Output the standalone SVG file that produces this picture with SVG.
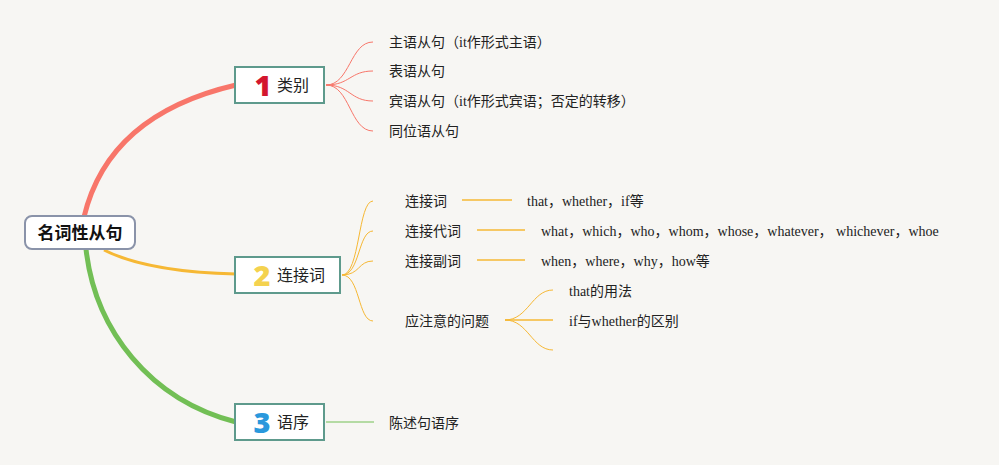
<svg xmlns="http://www.w3.org/2000/svg" width="999" height="465" viewBox="0 0 999 465">
<style>
.bg{fill:#f7f6f3}
.main{fill:#fff;stroke:#5e9a8c;stroke-width:2}
.root{fill:#fff;stroke:#8a93a9;stroke-width:2}
.t{font-family:"Noto Sans CJK SC","Noto Sans",sans-serif;font-size:14px;fill:#222}
.e{font-family:"Liberation Serif","Noto Sans CJK SC",serif;font-size:14px;fill:#222}
.m{font-family:"Noto Sans CJK SC",sans-serif;font-size:16px;fill:#222}
.n{font-family:"Open Sans","Noto Sans",sans-serif;font-weight:800;font-size:29px}
.r{fill:none;stroke:#f8766a}
.y{fill:none;stroke:#f6b834}
.g{fill:none;stroke:#72bf55}
</style>
<rect class="bg" width="999" height="465"/>
<g id="connectors">
<path class="r" stroke-width="5" d="M84 217 C100 150,150 105,236 85"/>
<path class="y" stroke-width="3" d="M104 250 C140 268,190 273,236 274"/>
<path class="g" stroke-width="5" d="M86 249 C95 330,150 400,236 422"/>
<g class="r" stroke-width="1">
<path d="M326 85 C350 85,350 42,373 42"/>
<path d="M326 85 C350 85,350 71,373 71"/>
<path d="M326 85 C350 85,350 101,373 101"/>
<path d="M326 85 C350 85,350 131,373 131"/>
</g>
<g class="y" stroke-width="1">
<path d="M342 275 C360 275,358 201,373 201"/>
<path d="M342 275 C360 275,358 231,373 231"/>
<path d="M342 275 C360 275,358 261,373 261"/>
<path d="M342 275 C360 275,358 321,373 321"/>
<path stroke-width="1.5" d="M462 200 H512"/>
<path stroke-width="1.5" d="M477 230 H525"/>
<path stroke-width="1.5" d="M477 260 H525"/>
<path stroke-width="1.5" d="M505 320 H553"/>
<path d="M505 320 C528 320,532 290,553 290"/>
<path d="M505 320 C528 320,532 350,553 350"/>
</g>
<path class="g" stroke-width="1" d="M326 422 H374"/>
</g>
<g id="root">
<rect class="root" x="25" y="216" width="110" height="33" rx="7"/>
<text x="80" y="239" text-anchor="middle" font-family="Noto Sans CJK SC,sans-serif" font-weight="bold" font-size="17" fill="#111">名词性从句</text>
</g>
<g id="n1">
<rect class="main" x="235" y="67" width="89" height="36"/>
<text class="n" x="263" y="96" fill="#d3162e" text-anchor="middle">1</text>
<text class="m" x="277" y="91">类别</text>
</g>
<g id="n2">
<rect class="main" x="235" y="257" width="105" height="36"/>
<text class="n" x="262" y="286" fill="#f4d24f" text-anchor="middle">2</text>
<text class="m" x="277" y="281">连接词</text>
</g>
<g id="n3">
<rect class="main" x="235" y="404" width="89" height="36"/>
<text class="n" x="262" y="433" fill="#2a98dc" text-anchor="middle">3</text>
<text class="m" x="277" y="428">语序</text>
</g>
<g id="c1"><text class="t" x="389" y="47">主语从句（<tspan class="e">it</tspan>作形式主语）</text></g>
<g id="c2"><text class="t" x="389" y="76">表语从句</text></g>
<g id="c3"><text class="t" x="389" y="106">宾语从句（<tspan class="e">it</tspan>作形式宾语；否定的转移）</text></g>
<g id="c4"><text class="t" x="389" y="136">同位语从句</text></g>
<g id="d1"><text class="t" x="405" y="206">连接词</text></g>
<g id="d1a"><text class="e" x="527" y="206">that，whether，if等</text></g>
<g id="d2"><text class="t" x="405" y="236">连接代词</text></g>
<g id="d2a"><text class="e" x="541" y="236">what，which，who，whom，whose，whatever， whichever，whoe</text></g>
<g id="d3"><text class="t" x="405" y="266">连接副词</text></g>
<g id="d3a"><text class="e" x="541" y="266">when，where，why，how等</text></g>
<g id="d4"><text class="t" x="405" y="326">应注意的问题</text></g>
<g id="d4a"><text class="e" x="569" y="296">that的用法</text></g>
<g id="d4b"><text class="e" x="569" y="326">if与whether的区别</text></g>
<g id="e1"><text class="t" x="389" y="428">陈述句语序</text></g>
</svg>
